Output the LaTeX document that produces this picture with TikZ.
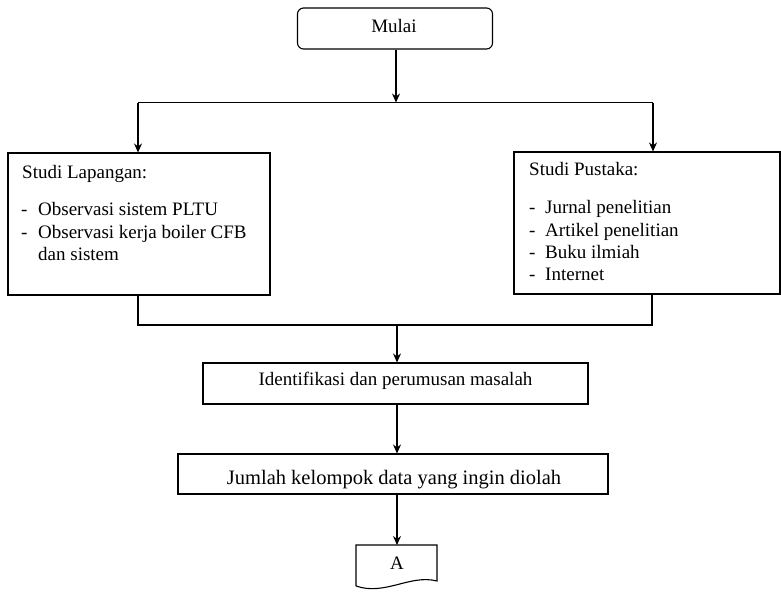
\documentclass[tikz,border=0pt]{standalone}
\usepackage{fontspec}
\setmainfont{Liberation Serif}
\usetikzlibrary{arrows.meta}
\begin{document}
\begin{tikzpicture}[x=1pt,y=-1pt,
  box/.style={draw,line width=1.1pt,inner sep=0pt},
  conn/.style={line width=1.1pt},
  arr/.style={conn,-{Stealth[length=9pt,width=8pt]}},
  txt/.style={inner sep=0pt,anchor=base west,font=\fontsize{19}{23}\selectfont},
  ctxt/.style={inner sep=0pt,anchor=base}]
\useasboundingbox (0,0) rectangle (781,592);
% start
\node[box,rounded corners=6pt,minimum width=195pt,minimum height=41pt] (mulai) at (395,28.5) {};
\node[ctxt,font=\fontsize{19}{23}\selectfont] (mulaitxt) at (394,32.5) {Mulai};
% boxes
\node[box,minimum width=262pt,minimum height=142pt] (lap) at (139,224) {};
\node[box,minimum width=266pt,minimum height=142pt] (pus) at (647,223) {};
\node[txt] (laph) at (22,178) {Studi Lapangan:};
\node[txt] (lapd1) at (21,215.5) {-};
\node[txt] (lapi1) at (38,215.5) {Observasi sistem PLTU};
\node[txt] (lapd2) at (21,238.5) {-};
\node[txt] (lapi2) at (38,238.5) {Observasi kerja boiler CFB};
\node[txt] (lapi3) at (38,260.5) {dan sistem};
\node[txt] (push) at (529,175.5) {Studi Pustaka:};
\node[txt] (pusd1) at (529,213.5) {-};
\node[txt] (pusi1) at (545,213.5) {Jurnal penelitian};
\node[txt] (pusd2) at (529,236) {-};
\node[txt] (pusi2) at (545,236) {Artikel penelitian};
\node[txt] (pusd3) at (529,258) {-};
\node[txt] (pusi3) at (545,258) {Buku ilmiah};
\node[txt] (pusd4) at (529,280.5) {-};
\node[txt] (pusi4) at (545,280.5) {Internet};
% process boxes
\node[box,minimum width=385pt,minimum height=41pt] (ident) at (395.5,383.5) {};
\node[ctxt,font=\fontsize{19}{23}\selectfont] (identtxt) at (395.5,385) {Identifikasi dan perumusan masalah};
\node[box,minimum width=430pt,minimum height=40pt] (jml) at (393,474) {};
\node[ctxt,font=\fontsize{20.5}{24}\selectfont] (jmltxt) at (394,484.5) {Jumlah kelompok data yang ingin diolah};
% off-page connector (document shape)
\coordinate (doctl) at (356,545);
\coordinate (doctr) at (437,545);
\coordinate (docbr) at (437,581);
\coordinate (docbl) at (356,586);
\draw[conn] (docbl) -- (doctl) -- (doctr) -- (docbr)
  .. controls (410,574) and (385,596) .. (docbl);
\node[ctxt,font=\fontsize{19}{23}\selectfont] (atxt) at (397,569) {A};
\coordinate (doctop) at (397,545);
% connectors
\coordinate (jl) at (138,102.5);
\coordinate (jr) at (653,102.5);
\coordinate (jm) at (396,102.5);
\draw[arr] (mulai.south -| jm) -- (jm);
\draw[conn] (jl) -- (jr);
\draw[arr] (jl) -- (jl |- lap.north);
\draw[arr] (jr) -- (jr |- pus.north);
\coordinate (ml) at (138,325);
\coordinate (mr) at (652,325);
\coordinate (mm) at (397,325);
\draw[conn] (ml |- lap.south) -- (ml) -- (mr) -- (mr |- pus.south);
\draw[arr] (mm) -- (mm |- ident.north);
\draw[arr] (ident.south -| mm) -- (mm |- jml.north);
\draw[arr] (jml.south -| mm) -- (doctop);
\end{tikzpicture}
\end{document}
